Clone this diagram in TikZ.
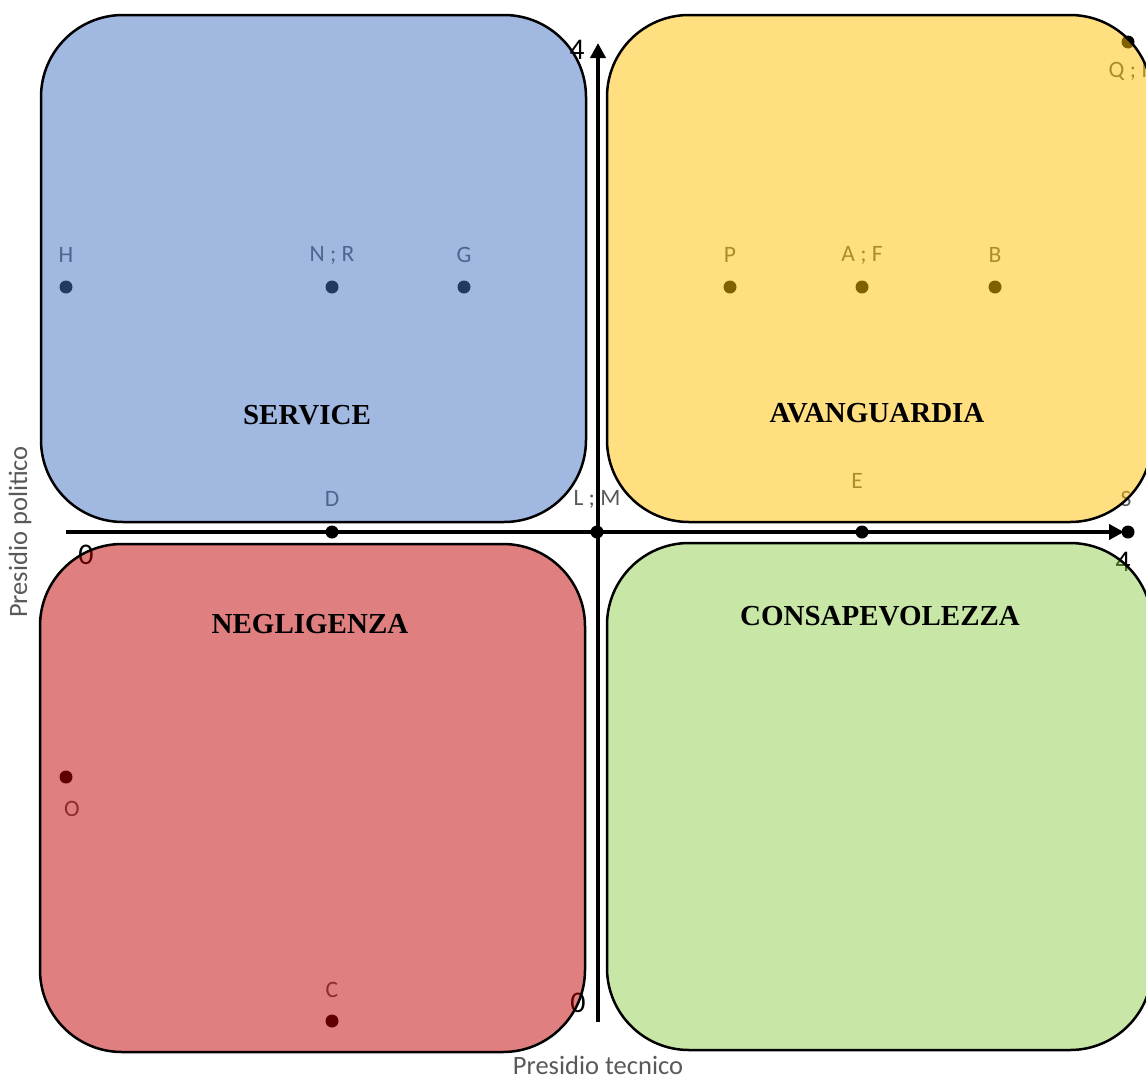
\documentclass[tikz,border=0pt]{standalone}
\usepackage{fontspec}
\setmainfont{Liberation Serif}
\newfontfamily\calib{Carlito}
\usetikzlibrary{arrows.meta}
\definecolor{lblgrey}{HTML}{595959}
\definecolor{qblue}{HTML}{4472C4}
\definecolor{qgold}{HTML}{FFC000}
\definecolor{qred}{HTML}{C00000}
\definecolor{qgreen}{HTML}{92D050}
\tikzset{
  dot/.style={circle, fill=black, inner sep=0pt, minimum size=13pt},
  lbl/.style={text=lblgrey, font=\calib\fontsize{23.5}{25}\selectfont, inner sep=0pt},
  tick/.style={text=black, font=\calib\fontsize{30}{32}\selectfont, inner sep=0pt},
  axtitle/.style={text=lblgrey, font=\calib\fontsize{26.5}{28}\selectfont, inner sep=0pt},
  axis/.style={line width=4pt, -{Triangle[length=15pt,width=15pt]}},
  quad/.style={draw=black, line width=2.5pt, rounded corners=82pt, fill opacity=0.5},
  qtitle/.style={font=\bfseries\fontsize{29}{31}\selectfont, text=black, inner sep=0pt}
}
\begin{document}
\begin{tikzpicture}[x=1pt, y=-1pt]
\useasboundingbox (0,0) rectangle (1146,1079);

% axes
\coordinate (xstart) at (66,532);
\coordinate (xend) at (1124,532);
\coordinate (ystart) at (598,1022);
\coordinate (yend) at (598,43);
\draw[axis] (xstart) -- (xend);
\draw[axis] (ystart) -- (yend);

% tick labels
\node[tick] (t4y) at (577,50) {4};
\node[tick] (t0y) at (578,1003) {0};
\node[tick] (t0x) at (86,555) {0};
\node[tick] (t4x) at (1123,562) {4};

% data points
\node[dot] (pH)  at (66,287) {};
\node[dot] (pNR) at (332,287) {};
\node[dot] (pG)  at (464,287) {};
\node[dot] (pP)  at (730,287) {};
\node[dot] (pAF) at (862,287) {};
\node[dot] (pB)  at (995,287) {};
\node[dot] (pQI) at (1128,42) {};
\node[dot] (pD)  at (332,532) {};
\node[dot] (pLM) at (597,532) {};
\node[dot] (pE)  at (862,532) {};
\node[dot] (pS)  at (1128,532) {};
\node[dot] (pO)  at (66,777) {};
\node[dot] (pC)  at (332,1021) {};

% point labels
\node[lbl] (lH)  at (66,255) {H};
\node[lbl] (lNR) at (332,255) {N ; R};
\node[lbl] (lG)  at (464,255) {G};
\node[lbl] (lP)  at (730,255) {P};
\node[lbl] (lAF) at (862,255) {A ; F};
\node[lbl] (lB)  at (995,255) {B};
\node[lbl] (lQI) at (1128,71) {Q ; I};
\node[lbl] (lD)  at (332,499) {D};
\node[lbl] (lLM) at (597,499) {L ; M};
\node[lbl] (lE)  at (857,481) {E};
\node[lbl] (lS)  at (1126,499) {S};
\node[lbl] (lO)  at (72,809) {O};
\node[lbl] (lC)  at (332,990) {C};

% axis titles
\node[axtitle] (xtitle) at (598,1065) {Presidio tecnico};
\node[axtitle, rotate=90] (ytitle) at (20,532) {Presidio politico};

% quadrants
\draw[quad, fill=qblue]  (41,15) rectangle (586,522);
\draw[quad, fill=qgold]  (607,15) rectangle (1152,522);
\draw[quad, fill=qred]   (40,544) rectangle (585,1052);
\draw[quad, fill=qgreen] (607,543) rectangle (1152,1050);

% quadrant titles
\node[qtitle] (tService) at (307,415) {SERVICE};
\node[qtitle] (tAvang)   at (877,413) {AVANGUARDIA};
\node[qtitle] (tNegl)    at (310,624) {NEGLIGENZA};
\node[qtitle] (tConsap)  at (880,616) {CONSAPEVOLEZZA};
\end{tikzpicture}
\end{document}
